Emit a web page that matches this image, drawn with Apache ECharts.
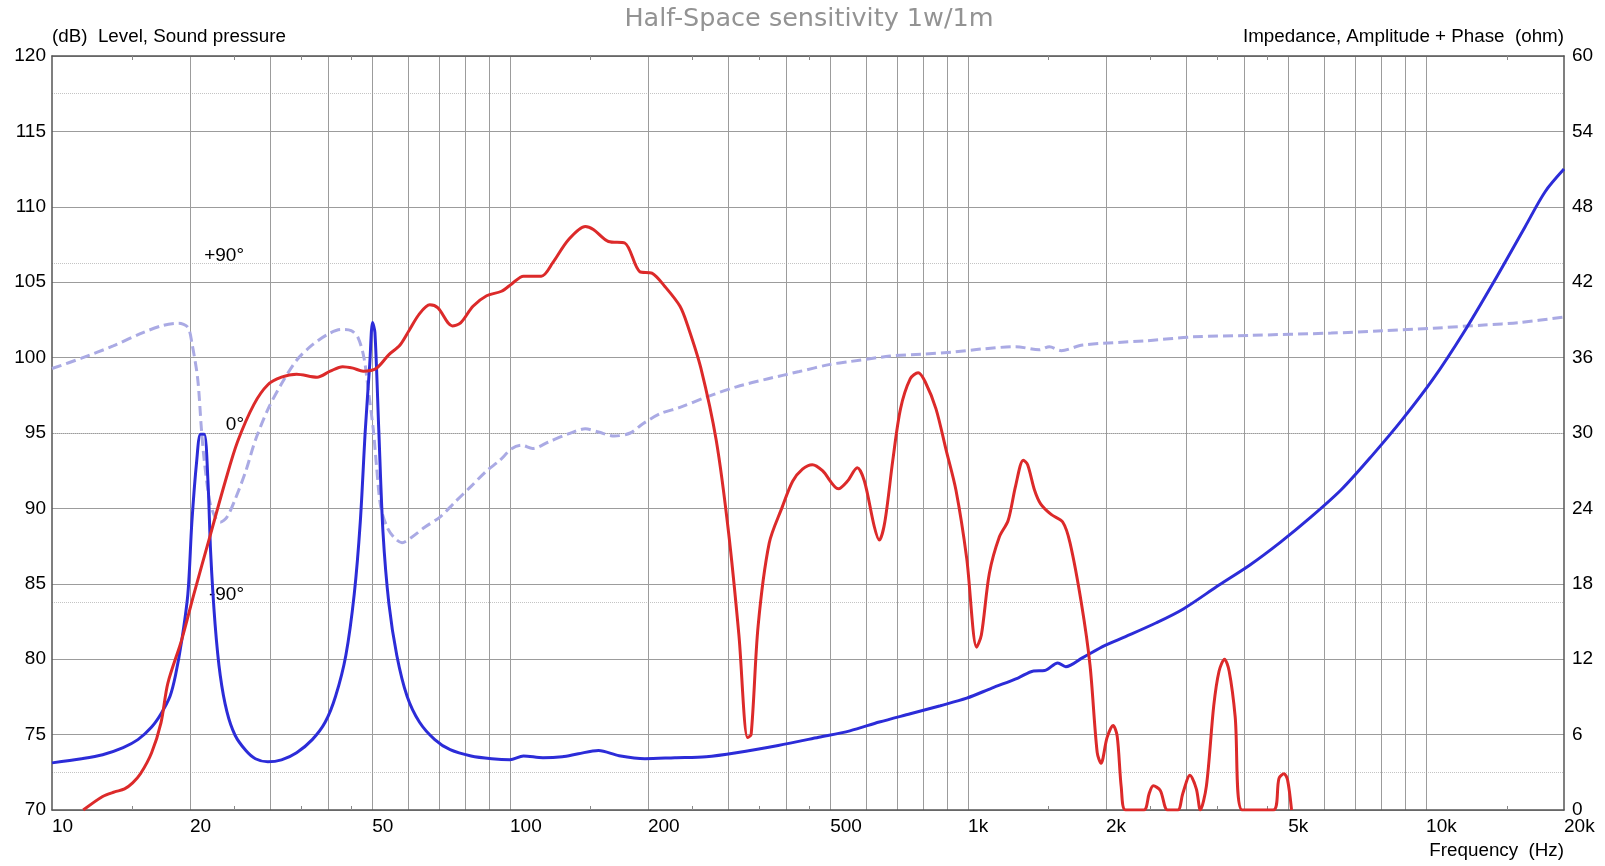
<!DOCTYPE html>
<html>
<head>
<meta charset="utf-8">
<script src="https://cdn.jsdelivr.net/npm/echarts@6/dist/echarts.min.js"></script>
<style>
  html, body { margin: 0; padding: 0; background: #fff; }
  #chart { width: 1605px; height: 866px; }
</style>
</head>
<body>
<div id="chart"></div>
<script>
// frequency ticks
const freqLabels = [10, 20, 50, 100, 200, 500, 1000, 2000, 5000, 10000, 20000];
const freqGrid = [20, 30, 40, 50, 60, 70, 80, 90, 100, 200, 300, 400, 500, 600, 700, 800, 900,
  1000, 2000, 3000, 4000, 5000, 6000, 7000, 8000, 9000, 10000];
const freqMinor = [15, 25, 35, 45, 150, 250, 350, 450, 1500, 2500, 3500, 4500, 15000];
const phaseGrid = [-180, -90, 0, 90, 180];
const phaseLabels = [-90, 0, 90];

// sound pressure level (dB)
const splFreq = [11.7, 12.9, 13.7, 14.4, 15.0, 15.6, 16.5, 17.3, 17.9, 19.2, 20.4, 22.1, 23.9, 25.4, 27.6,
  29.6, 31.7, 34.2, 37.9, 40.5, 43.1, 45.4, 47.8, 51.1, 54.4, 57.4, 60.2, 63.4, 66.8, 69.6, 74.8, 78,
  83, 88.9, 95.8, 101, 107, 117, 124, 134, 146, 152, 164, 178, 192, 204, 218, 235, 245, 261, 282, 300,
  316, 330, 336, 348, 368, 393, 414, 435, 457, 481, 521, 545, 573, 594, 624, 640, 658, 685, 712, 748,
  778, 806, 851, 895, 941, 993, 1044, 1069, 1113, 1170, 1223, 1270, 1320, 1349, 1397, 1440, 1518, 1609,
  1670, 1768, 1846, 1914, 1951, 2011, 2073, 2116, 2160, 2207, 2420, 2486, 2537, 2628, 2726, 2870, 2943,
  3051, 3150, 3214, 3314, 3438, 3531, 3630, 3716, 3829, 3968, 4637, 4773, 4895, 4983, 5084];
const splDb = [70, 70.9, 71.2, 71.4, 71.8, 72.4, 73.8, 75.8, 78.4, 81.3, 84.3, 88.1, 91.8, 94.4, 96.9,
  98.2, 98.7, 98.9, 98.7, 99.1, 99.4, 99.3, 99.1, 99.3, 100.2, 100.8, 101.8, 102.9, 103.5, 103.3, 102.1, 102.3,
  103.4, 104.1, 104.4, 104.9, 105.4, 105.4, 106.3, 107.8, 108.7, 108.5, 107.7, 107.6, 105.7, 105.6, 104.7, 103.4, 102, 99.3, 94.5, 88.4,
  81.6, 74.8, 75, 82.2, 87.7, 90.1, 91.8, 92.6, 92.9, 92.5, 91.3, 91.8, 92.7, 91.8, 88.8, 87.9, 89.1, 93.2, 96.6, 98.6,
  99, 98.4, 96.6, 93.9, 91.2, 86.7, 80.8, 81.6, 85.7, 88.1, 89.2, 91.5, 93.2, 92.9, 91.2, 90.3, 89.6, 89.1,
  87.7, 83.7, 79.6, 73.8, 73.1, 74.8, 75.6, 74.9, 71.5, 70, 70, 71.1, 71.6, 71.3, 70, 70, 71.1,
  72.3, 71.4, 70, 71.6, 76.9, 79.2, 80, 79.2, 76.2, 70, 70, 72.1, 72.4, 72, 70];

// impedance amplitude (ohm)
const impFreq = [10, 11.6, 12.9, 14.3, 15.4, 16.5, 17.3, 18.1, 18.6, 19.2, 19.8, 20.2, 20.7, 21.1, 21.5,
  21.9, 22.2, 22.7, 23.3, 24.1, 25.1, 26.5, 27.8, 29.6, 31.7, 34.2, 37, 39.5, 41.6, 43.8, 45.7, 47.1,
  48.3, 49.4, 50.1, 50.7, 51.7, 52.8, 54.4, 56.6, 59.6, 63.4, 68.5, 74, 82.2, 91.2, 99.9, 107, 118,
  130, 141, 156, 173, 197, 229, 268, 312, 385, 472, 552, 640, 748, 870, 993, 1127, 1285, 1390, 1470,
  1570, 1634, 1780, 1992, 2207, 2577, 2951, 3531, 4124, 4803, 5601, 6533, 7619, 8885, 10360, 12080,
  14090, 16440, 18190, 20000];
const impOhm = [3.75, 4.08, 4.4, 4.97, 5.6, 6.6, 7.66, 9.05, 10.7, 13.5, 17.2, 22.9, 27.8, 29.9, 29.9,
  26.2, 20.5, 14.8, 10.7, 7.8, 5.95, 4.73, 4.08, 3.83, 3.99, 4.56, 5.6, 7.0, 9.05, 12.3, 17.2, 22.9,
  30.2, 35.5, 38.8, 38.0, 30.2, 22.1, 16.4, 12.3, 9.05, 7.0, 5.6, 4.8, 4.3, 4.08, 4.0, 4.3, 4.16,
  4.24, 4.48, 4.73, 4.32, 4.08, 4.16, 4.24, 4.56, 5.14, 5.79, 6.3, 7.0, 7.66, 8.3, 8.9, 9.7, 10.5, 11.07, 11.1,
  11.7, 11.4, 12.13, 13.1, 13.8, 14.9, 16.0, 17.9, 19.5, 21.3, 23.3, 25.5, 28.2, 31.1, 34.3, 38.0,
  42.1, 46.4, 49.2, 51.0];

// impedance phase (deg)
const phaseFreq = [10, 11.6, 13.6, 15.8, 17.5, 18.9, 19.8, 20.2, 20.8, 21.2, 21.5, 22.1, 22.7, 23.3, 24.1,
  25.1, 26.5, 27.8, 29.6, 31.7, 34.2, 37, 39.9, 42.7, 45, 46.6, 48, 49, 50.3, 51.1, 52.2, 53.9, 55.8,
  58.1, 60.9, 65.1, 70.3, 76, 82.2, 88.9, 94.8, 101, 106, 112, 121, 134, 146, 156, 169, 183, 195, 213,
  235, 268, 312, 366, 428, 500, 552, 676, 789, 921, 1077, 1270, 1430, 1505, 1597, 1780, 2440, 3100,
  4124, 6203, 8015, 10360, 13380, 16000, 20000];
const phaseDeg = [34.2, 39.7, 46.2, 53.3, 57.1, 58.2, 56, 47.8, 28.8, 1.6, -14.7, -36.4, -44.6, -47.3, -44.6,
  -35.3, -20.1, -3.8, 12.5, 26.1, 38.6, 46.7, 52.2, 54.9, 54.3, 50.5, 39.7, 23.4, 1.6, -17.4, -39.1, -50, -55.4,
  -58.2, -55.4, -50, -44.6, -36.4, -28.3, -20.1, -14.7, -8.2, -6.5, -8.2, -4.9, -0.5, 2.2, 0.5, -1.6, 0, 4.9, 10.3,
  13.6, 19, 24.5, 28.8, 32.6, 36.4, 37.9, 40.8, 41.8, 42.9, 44.6, 45.8, 44.1, 45.8, 43.7, 46.7, 48.9, 51,
  51.8, 53, 54.2, 55.6, 57.3, 58.6, 61.5];

function pairs(xs, ys) {
  return xs.map(function (x, i) { return [x, ys[i]]; });
}
function fmtHz(v) {
  return v >= 1000 ? (v / 1000) + 'k' : String(v);
}

const tickFont = { fontSize: 19, color: '#000', fontFamily: 'Liberation Sans, Arial, sans-serif' };
const nameFont = { fontSize: 18.8, color: '#000', fontWeight: 'normal', fontFamily: 'Liberation Sans, Arial, sans-serif' };

const chart = echarts.init(document.getElementById('chart'), null, { renderer: 'canvas' });
chart.setOption({
  animation: false,
  backgroundColor: '#fff',
  title: [
    { text: 'Half-Space sensitivity 1w/1m', left: 809, textAlign: 'center', top: 6, padding: 0,
      textStyle: { color: '#939393', fontSize: 25.5, fontWeight: 'normal', fontFamily: 'DejaVu Sans' } },
    { text: '(dB)  Level, Sound pressure', left: 52, top: 27, padding: 0, textStyle: nameFont },
    { text: 'Impedance, Amplitude + Phase  (ohm)', right: 41, top: 27, padding: 0, textStyle: nameFont },
    { text: 'Frequency  (Hz)', right: 41, top: 841, padding: 0, textStyle: nameFont }
  ],
  grid: { left: 52, right: 41, top: 56, bottom: 56, outerBoundsMode: 'none' },
  xAxis: [
    {
      type: 'log', logBase: 10, min: 10, max: 20000, position: 'bottom',
      axisLine: { show: true, onZero: false, lineStyle: { color: '#555', width: 1.5 } },
      axisTick: { show: false, customValues: freqGrid },
      splitLine: { show: true, lineStyle: { color: '#9c9c9c', width: 1 } },
      axisLabel: Object.assign({ customValues: freqLabels, formatter: fmtHz, align: 'left', margin: 7 }, tickFont)
    },
    {
      type: 'log', logBase: 10, min: 10, max: 20000, position: 'bottom',
      axisLine: { show: false, onZero: false },
      axisTick: { show: true, inside: true, length: 4, customValues: freqMinor, lineStyle: { color: '#888' } },
      splitLine: { show: false },
      axisLabel: { show: false }
    },
    {
      type: 'log', logBase: 10, min: 10, max: 20000, position: 'top',
      axisLine: { show: true, onZero: false, lineStyle: { color: '#555', width: 1.5 } },
      axisTick: { show: true, inside: true, length: 4, customValues: freqMinor, lineStyle: { color: '#888' } },
      splitLine: { show: false },
      axisLabel: { show: false }
    }
  ],
  yAxis: [
    {
      type: 'value', min: 70, max: 120, interval: 5, position: 'left',
      axisLine: { show: true, onZero: false, lineStyle: { color: '#555', width: 1.5 } },
      axisTick: { show: false },
      splitLine: { show: true, lineStyle: { color: '#9c9c9c', width: 1 } },
      axisLabel: Object.assign({ margin: 6 }, tickFont)
    },
    {
      type: 'value', min: 0, max: 60, interval: 6, position: 'right',
      axisLine: { show: true, onZero: false, lineStyle: { color: '#555', width: 1.5 } },
      axisTick: { show: false },
      splitLine: { show: false },
      axisLabel: Object.assign({ margin: 8 }, tickFont)
    },
    {
      type: 'value', min: -200, max: 200, position: 'left', offset: -192,
      axisLine: { show: false, onZero: false },
      axisTick: { show: false, customValues: phaseGrid },
      splitLine: { show: true, lineStyle: { color: '#c4c4c4', type: 'dotted', width: 1 } },
      axisLabel: Object.assign({
        customValues: phaseLabels, margin: 0, verticalAlign: 'bottom', lineHeight: 16,
        formatter: function (v) { return (v > 0 ? '+' : '') + v + '°'; }
      }, tickFont)
    }
  ],
  series: [
    {
      name: 'Phase', type: 'line', xAxisIndex: 0, yAxisIndex: 2, showSymbol: false, smooth: 0.3,
      data: pairs(phaseFreq, phaseDeg),
      lineStyle: { color: '#aaaae4', width: 3, type: [10, 5] }, z: 3
    },
    {
      name: 'Impedance', type: 'line', xAxisIndex: 0, yAxisIndex: 1, showSymbol: false, smooth: 0.3,
      data: pairs(impFreq, impOhm),
      lineStyle: { color: '#2c2cd8', width: 3 }, z: 4
    },
    {
      name: 'SPL', type: 'line', xAxisIndex: 0, yAxisIndex: 0, showSymbol: false, smooth: 0.3,
      data: pairs(splFreq, splDb),
      lineStyle: { color: '#dc2a2a', width: 3 }, z: 5
    }
  ]
});
</script>
</body>
</html>
